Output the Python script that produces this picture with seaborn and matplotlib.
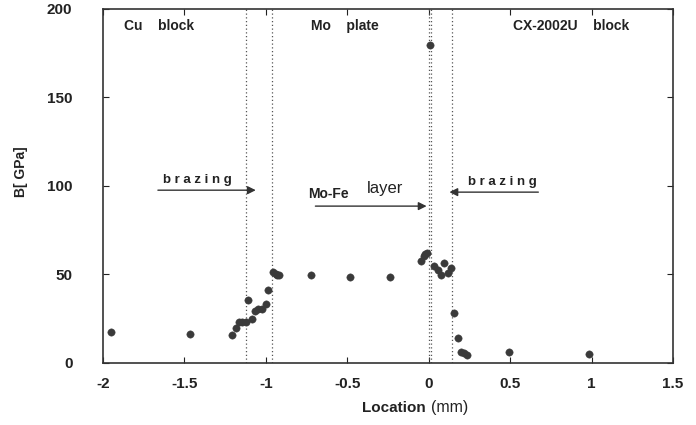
import matplotlib
matplotlib.use("Agg")
import matplotlib.pyplot as plt
import seaborn as sns
import pandas as pd

# measured points, location in mm and B in GPa
location = [-1.953, -1.463, -1.205, -1.185, -1.165, -1.145, -1.124, -1.108, -1.083,
            -1.067, -1.047, -1.026, -1.002, -0.984, -0.955, -0.94, -0.93, -0.92,
            -0.724, -0.484, -0.24, -0.047, -0.032, -0.02, -0.01, 0.01, 0.035, 0.055,
            0.075, 0.096, 0.116, 0.136, 0.157, 0.177, 0.197, 0.218, 0.238, 0.494, 0.986]
modulus = [17.6, 16.4, 15.7, 20.0, 23.2, 23.2, 23.2, 35.3, 25.1,
           29.6, 30.2, 30.6, 33.4, 41.4, 51.4, 50.4, 49.9, 49.5,
           49.9, 48.5, 48.3, 57.4, 60.2, 61.6, 62.1, 179.6, 54.6, 52.7,
           49.9, 56.4, 50.8, 53.6, 28.1, 14.0, 6.4, 5.8, 4.5, 6.4, 4.9]

boundaries = [-1.12, -0.965, 0.0, 0.015, 0.14]
x_ticks = [-2, -1.5, -1, -0.5, 0, 0.5, 1, 1.5]
y_ticks = [0, 50, 100, 150, 200]

df = pd.DataFrame({"loc": location, "B": modulus})

sns.set_theme(style="ticks")
plt.rcParams["font.family"] = ["Liberation Sans", "DejaVu Sans"]

fig = plt.figure(figsize=(6.96, 4.25), dpi=100)
ax = fig.add_axes([0.148, 0.146, 0.819, 0.833])

sns.scatterplot(data=df, x="loc", y="B", ax=ax, color="#3a3a3a",
                s=28, edgecolor="#3a3a3a", linewidth=0.3, zorder=3)

for b in boundaries:
    ax.axvline(b, color="#555555", linestyle=(0, (1, 2)), linewidth=0.9, zorder=1)

ax.set_xlim(-2, 1.5)
ax.set_ylim(0, 200)
ax.set_xticks(x_ticks)
ax.set_xticklabels(["-2", "-1.5", "-1", "-0.5", "0", "0.5", "1", "1.5"])
ax.set_yticks(y_ticks)
ax.tick_params(direction="in", length=4, width=0.8, top=True, right=True,
               labelsize=11, colors="#222222")
for lab in ax.get_xticklabels() + ax.get_yticklabels():
    lab.set_fontweight("bold")
ax.tick_params(axis="y", pad=22)
ax.tick_params(axis="x", pad=10)
for sp in ax.spines.values():
    sp.set_linewidth(1.2)
    sp.set_color("#333333")

ax.set_xlabel("")
ax.set_ylabel("")
fig.text(0.612, 0.03, "Location", ha="right", va="baseline",
         fontsize=11, fontweight="bold", color="#222222")
fig.text(0.619, 0.03, "(mm)", ha="left", va="baseline",
         fontsize=11.5, color="#222222")
fig.text(0.03, 0.595, "B[ GPa]", rotation=90, ha="center", va="center",
         fontsize=10, fontweight="bold", color="#222222")

txt = dict(fontsize=10, fontweight="bold", color="#222222", va="center")
ax.text(-1.87, 190.5, "Cu    block", ha="left", **txt)
ax.text(-0.72, 190.5, "Mo    plate", ha="left", **txt)
ax.text(0.52, 190.5, "CX-2002U    block", ha="left", **txt)

ax.text(-1.42, 103.5, "b r a z i n g", ha="center", fontsize=9.5,
        fontweight="bold", color="#222222", va="center")
ax.annotate("", xy=(-1.045, 97.6), xytext=(-1.68, 97.6),
            arrowprops=dict(arrowstyle="-|>", color="#333333", lw=1.0,
                            mutation_scale=12))

ax.text(-0.616, 95.2, "Mo-Fe", ha="center", **txt)
ax.text(-0.27, 98.5, "layer", ha="center", fontsize=12, color="#222222",
        va="center")
ax.annotate("", xy=(0.004, 88.6), xytext=(-0.713, 88.6),
            arrowprops=dict(arrowstyle="-|>", color="#333333", lw=1.0,
                            mutation_scale=12))

ax.text(0.45, 102.5, "b r a z i n g", ha="center", fontsize=9.5,
        fontweight="bold", color="#222222", va="center")
ax.annotate("", xy=(0.11, 96.5), xytext=(0.69, 96.5),
            arrowprops=dict(arrowstyle="-|>", color="#333333", lw=1.0,
                            mutation_scale=12))

fig.savefig("out.png", dpi=100)
